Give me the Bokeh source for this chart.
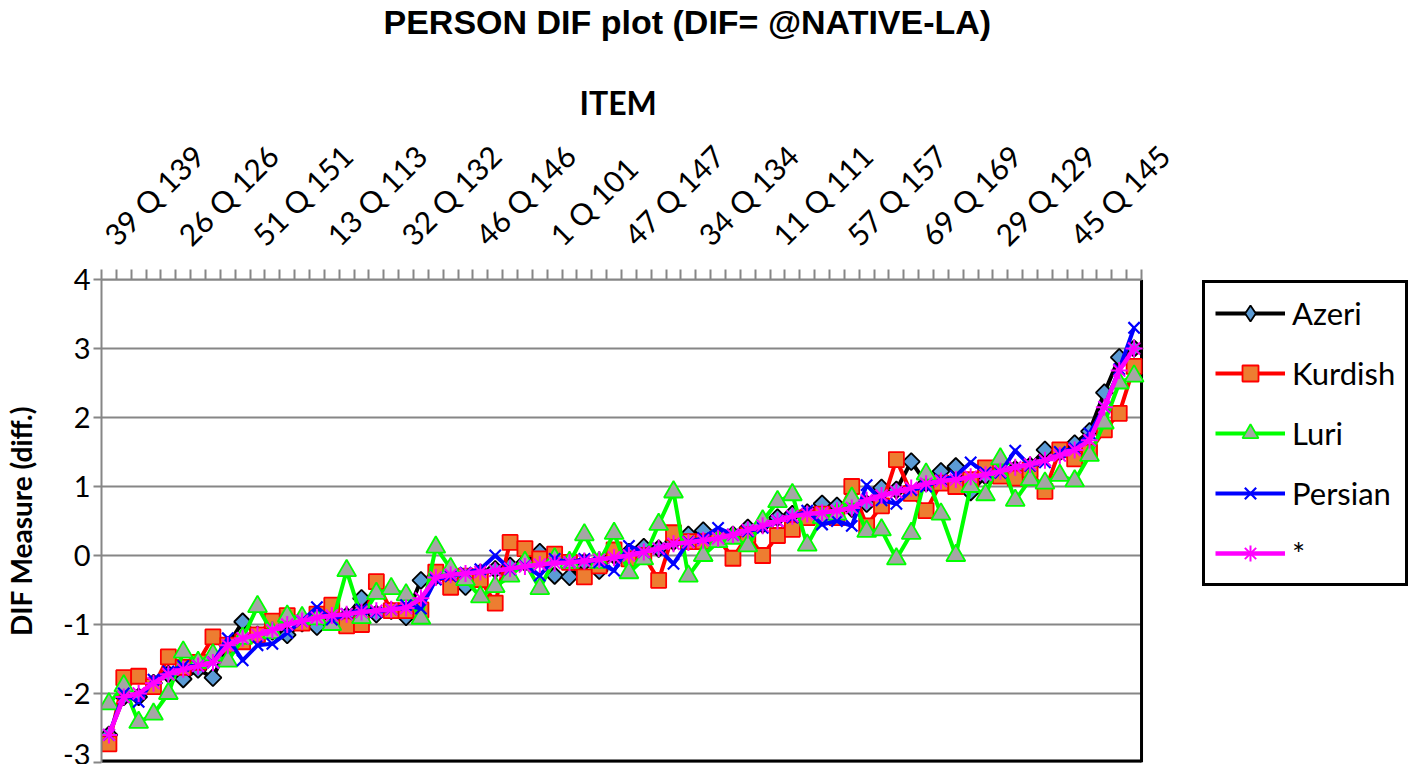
import math
from bokeh.plotting import figure
from bokeh.models import Range1d, FixedTicker, Legend, LegendItem, Title
from bokeh.embed import file_html
from bokeh.resources import INLINE

# ---------------- data ----------------
n_items = 70
label_step = 5
tick_labels = ["39 Q 139", "26 Q 126", "51 Q 151", "13 Q 113", "32 Q 132", "46 Q 146",
               "1 Q 101", "47 Q 147", "34 Q 134", "11 Q 111", "57 Q 157", "69 Q 169",
               "29 Q 129", "45 Q 145"]
y_ticks = [-3, -2, -1, 0, 1, 2, 3, 4]
y_tick_labels = ["-3", "-2", "-1", "0", "1", "2", "3", "4"]

series_names = ["Azeri", "Kurdish", "Luri", "Persian", "*"]

azeri = [-2.6, -2.05, -2.05, -1.85, -1.72, -1.79, -1.65, -1.77, -1.3, -0.96,
         -1.15, -1.1, -1.15, -0.98, -1.03, -0.9, -0.88, -0.62, -0.85, -0.8,
         -0.89, -0.36, -0.3, -0.32, -0.45, -0.25, -0.2, -0.15, -0.1, 0.05,
         -0.29, -0.31, -0.1, -0.22, 0.0, 0.05, 0.12, 0.1, 0.2, 0.3,
         0.36, 0.25, 0.3, 0.4, 0.45, 0.55, 0.6, 0.62, 0.75, 0.72,
         0.68, 0.75, 0.98, 0.95, 1.36, 1.05, 1.22, 1.29, 0.92, 1.15,
         1.2, 1.25, 1.3, 1.53, 1.5, 1.62, 1.8, 2.36, 2.87, 3.0]

kurdish = [-2.73, -1.77, -1.75, -1.9, -1.47, -1.62, -1.55, -1.18, -1.3, -1.25,
           -1.15, -0.95, -0.87, -0.98, -0.85, -0.72, -1.02, -1.0, -0.38, -0.8,
           -0.8, -0.79, -0.24, -0.46, -0.3, -0.35, -0.69, 0.19, 0.1, -0.05,
           0.02, -0.1, -0.31, -0.15, 0.08, -0.05, 0.0, -0.36, 0.33, 0.2,
           0.2, 0.25, -0.04, 0.3, 0.0, 0.29, 0.38, 0.55, 0.6, 0.55,
           1.0, 0.43, 0.72, 1.39, 0.9, 0.65, 1.05, 1.0, 1.1, 1.27,
           1.15, 1.12, 1.24, 0.93, 1.53, 1.4, 1.5, 1.82, 2.06, 2.74]

luri = [-2.15, -1.89, -2.42, -2.3, -2.0, -1.4, -1.55, -1.44, -1.53, -1.2,
        -0.74, -1.12, -0.88, -0.9, -0.92, -1.0, -0.22, -0.9, -0.55, -0.48,
        -0.57, -0.91, 0.12, -0.19, -0.35, -0.6, -0.45, -0.3, -0.1, -0.48,
        -0.05, -0.1, 0.3, -0.1, 0.32, -0.25, -0.05, 0.45, 0.92, -0.3,
        0.0, 0.2, 0.25, 0.14, 0.5, 0.78, 0.88, 0.15, 0.55, 0.6,
        0.83, 0.35, 0.37, -0.05, 0.32, 1.18, 0.6, 0.0, 1.0, 0.88,
        1.4, 0.8, 1.1, 1.05, 1.16, 1.08, 1.45, 1.92, 2.5, 2.6]

persian = [-2.6, -2.0, -2.12, -1.8, -1.68, -1.6, -1.6, -1.55, -1.2, -1.52,
           -1.3, -1.28, -1.12, -0.95, -0.75, -0.93, -0.85, -0.78, -0.82, -0.78,
           -0.72, -0.77, -0.35, -0.3, -0.25, -0.2, 0.0, -0.2, -0.15, -0.29,
           -0.05, -0.1, -0.05, -0.1, -0.22, 0.14, 0.05, 0.1, -0.12, 0.2,
           0.25, 0.4, 0.3, 0.35, 0.4, 0.5, 0.55, 0.65, 0.45, 0.5,
           0.43, 1.02, 0.8, 0.75, 0.95, 1.0, 1.1, 1.15, 1.35, 1.2,
           1.2, 1.52, 1.3, 1.35, 1.5, 1.55, 1.77, 2.15, 2.7, 3.3]

overall = [-2.6, -2.05, -2.0, -1.85, -1.72, -1.65, -1.6, -1.55, -1.3, -1.2,
           -1.15, -1.08, -1.0, -0.95, -0.9, -0.87, -0.85, -0.82, -0.8, -0.78,
           -0.76, -0.62, -0.32, -0.28, -0.26, -0.24, -0.22, -0.19, -0.16, -0.13,
           -0.11, -0.1, -0.08, -0.06, -0.03, 0.0, 0.05, 0.1, 0.17, 0.19,
           0.22, 0.25, 0.3, 0.37, 0.43, 0.5, 0.57, 0.6, 0.62, 0.65,
           0.69, 0.8, 0.87, 0.92, 0.98, 1.04, 1.08, 1.1, 1.14, 1.17,
           1.22, 1.28, 1.32, 1.38, 1.45, 1.53, 1.67, 2.15, 2.68, 3.0]

all_series = [azeri, kurdish, luri, persian, overall]

# ---------------- styles ----------------
styles = [
    dict(line="#000000", lw_line=4, marker="square", size=12, angle=math.pi / 4,
         fill="#5B9BD5", edge="#000000", lw=1.8, leg_marker="diamond"),
    dict(line="#FF0000", lw_line=4, marker="square", size=15, angle=0,
         fill="#ED7D31", edge="#FF0000", lw=1.8, leg_marker=None),
    dict(line="#00FF00", lw_line=4, marker="triangle", size=19, angle=0,
         fill="#A5A5A5", edge="#00FF00", lw=1.8, leg_marker=None),
    dict(line="#0000FF", lw_line=4, marker="x", size=16, angle=0,
         fill="#0000FF", edge="#0000FF", lw=2.2, leg_marker=None),
    dict(line="#FF00FF", lw_line=4.5, marker="asterisk", size=17, angle=0,
         fill="#FF00FF", edge="#FF00FF", lw=2, leg_marker=None),
]

# ---------------- layout numbers ----------------
W, H = 1408, 764
border_left, border_top, border_bottom = 96, 274, 2
data_px = 1044                       # width of the data part of the frame
frame_px = W - border_left           # frame extends under the legend
x_start = -0.5
x_end = x_start + n_items * frame_px / data_px
grey = "#868686"

xs = list(range(n_items))

p = figure(width=W, height=H,
           x_range=Range1d(x_start, x_end), y_range=Range1d(y_ticks[0], y_ticks[-1]),
           x_axis_location="above", output_backend="svg", toolbar_location=None,
           min_border_left=border_left, min_border_right=0,
           min_border_top=border_top, min_border_bottom=border_bottom)

p.title.text = "PERSON DIF plot (DIF= @NATIVE-LA)"
p.title.text_font = "Liberation Sans"
p.title.text_font_size = "34px"
p.title.text_font_style = "bold"
p.title.text_color = "black"
p.title.align = "left"
p.title.offset = 282
p.title.standoff = 0

item_title = Title(text="ITEM", align="left", offset=478, standoff=0,
                   text_font="Lato", text_font_size="32px", text_font_style="bold",
                   text_color="black")
p.add_layout(item_title, "above")
spacer = Title(text=" ", align="left", standoff=0, text_font="Liberation Sans",
               text_font_size="34px")
p.add_layout(spacer, "above")

xa = p.xaxis[0]
xa.bounds = (x_start, x_start + n_items)
xa.ticker = FixedTicker(ticks=[i * label_step for i in range(len(tick_labels))],
                        minor_ticks=[k - 0.5 for k in range(n_items + 1)])
xa.major_label_overrides = {i * label_step: lab for i, lab in enumerate(tick_labels)}
xa.major_label_orientation = math.pi / 4
xa.major_tick_line_color = None
xa.minor_tick_out = 10
xa.minor_tick_in = 0
xa.minor_tick_line_color = grey
xa.minor_tick_line_width = 2
xa.axis_line_color = grey
xa.axis_line_width = 2
xa.major_label_text_font = "Lato"
xa.major_label_text_font_size = "30px"
xa.major_label_text_color = "black"
xa.major_label_standoff = 30

ya = p.yaxis[0]
ya.ticker = FixedTicker(ticks=y_ticks, minor_ticks=[])
ya.major_label_overrides = {t: s for t, s in zip(y_ticks, y_tick_labels)}
ya.major_tick_out = 8
ya.major_tick_in = 0
ya.major_tick_line_color = grey
ya.major_tick_line_width = 2
ya.axis_line_color = grey
ya.axis_line_width = 2
ya.major_label_text_font = "Lato"
ya.major_label_text_font_size = "29px"
ya.major_label_text_color = "black"
ya.major_label_standoff = 3
ya.axis_label = "DIF Measure (diff.)"
ya.axis_label_text_font = "Lato"
ya.axis_label_text_font_size = "28px"
ya.axis_label_text_font_style = "bold"
ya.axis_label_text_color = "black"
ya.axis_label_standoff = 22

p.xgrid.visible = False
p.ygrid.visible = False
p.outline_line_color = None

# horizontal gridlines limited to the data area
p.segment(x0=[x_start] * len(y_ticks), x1=[x_start + n_items] * len(y_ticks),
          y0=y_ticks, y1=y_ticks, line_color=grey, line_width=2)
# plot-area border: right and bottom in black
p.segment(x0=[x_start + n_items], x1=[x_start + n_items], y0=[y_ticks[0]], y1=[y_ticks[-1]],
          line_color="black", line_width=3)
p.segment(x0=[x_start], x1=[x_start + n_items], y0=[y_ticks[0]], y1=[y_ticks[0]],
          line_color="black", line_width=6)

items = []
for name, vals, st in zip(series_names, all_series, styles):
    lr = p.line(xs, vals, line_color=st["line"], line_width=st["lw_line"], line_join="round")
    leg_r = None
    if st["leg_marker"] is not None:
        # smaller marker hidden under the rotated squares; shown as the legend symbol
        leg_r = p.scatter(xs, vals, marker=st["leg_marker"], size=9,
                          fill_color=st["fill"], line_color=st["edge"], line_width=st["lw"])
    sr = p.scatter(xs, vals, marker=st["marker"], size=st["size"], angle=st["angle"],
                   fill_color=st["fill"], line_color=st["edge"], line_width=st["lw"])
    items.append(LegendItem(label=name, renderers=[lr, leg_r if leg_r is not None else sr]))

legend = Legend(items=items, location=(1101, 176))
legend.border_line_color = "black"
legend.border_line_alpha = 1
legend.border_line_width = 3
legend.background_fill_color = "white"
legend.background_fill_alpha = 1
legend.padding = 10
legend.spacing = 20
legend.glyph_height = 40
legend.glyph_width = 70
legend.label_height = 40
legend.label_standoff = 7
legend.label_text_font = "Lato"
legend.label_text_font_size = "31px"
legend.label_text_color = "black"
legend.margin = 0
p.add_layout(legend)

open("out.html", "w").write(file_html(p, INLINE))
